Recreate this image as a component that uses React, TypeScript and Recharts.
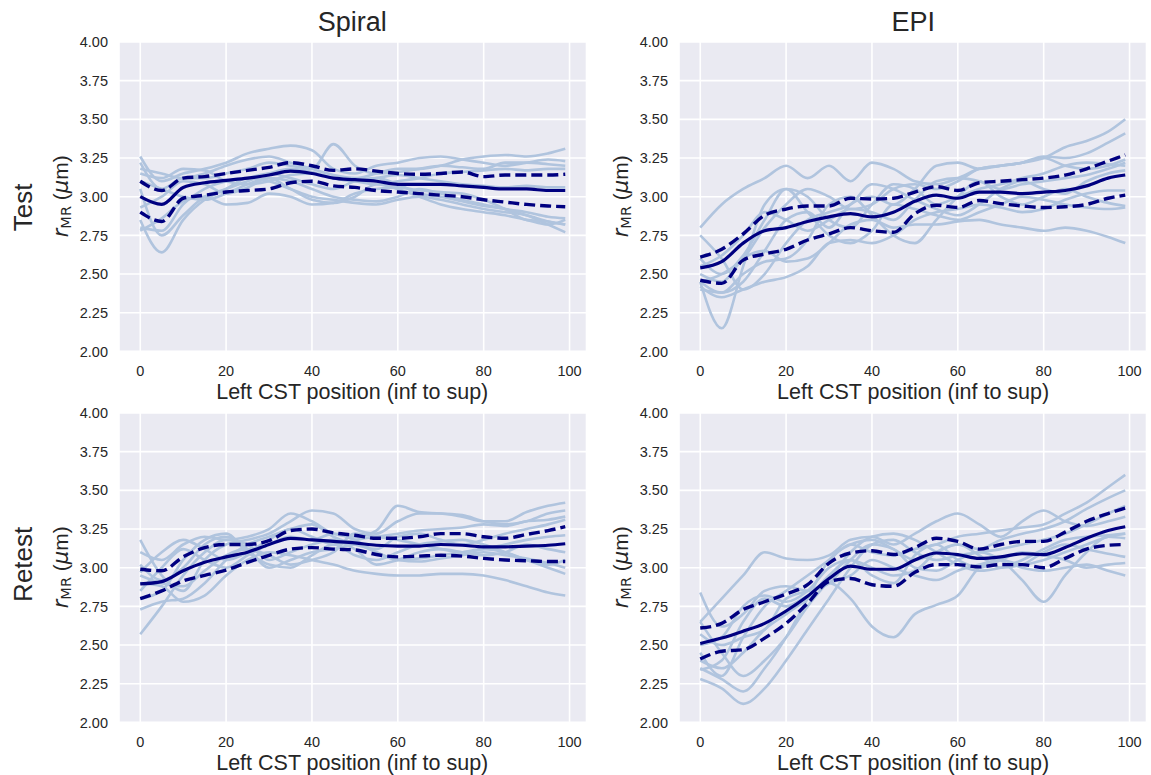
import { LineChart, Line, XAxis, YAxis, CartesianGrid } from 'recharts';

// positions along the tract where values were read
const POSITIONS = [0, 5, 10, 15, 20, 25, 30, 35, 40, 45, 50, 55, 60, 65, 70, 75, 80, 85, 90, 95, 99];
const X_TICKS = [0, 20, 40, 60, 80, 100];
const Y_TICKS = [2, 2.25, 2.5, 2.75, 3, 3.25, 3.5, 3.75, 4];

const COLUMN_TITLES = ['Spiral', 'EPI'];
const ROW_TITLES = ['Test', 'Retest'];
const X_LABEL = 'Left CST position (inf to sup)';

// Spiral / Test
const spiralTestMean = [3.0, 2.95, 3.06, 3.09, 3.105, 3.12, 3.14, 3.165, 3.15, 3.12, 3.11, 3.1, 3.08, 3.08, 3.08, 3.07, 3.06, 3.05, 3.05, 3.04, 3.04];
const spiralTestUpper = [3.1, 3.04, 3.12, 3.13, 3.15, 3.17, 3.19, 3.22, 3.2, 3.17, 3.18, 3.165, 3.15, 3.145, 3.15, 3.16, 3.13, 3.14, 3.14, 3.14, 3.145];
const spiralTestLower = [2.9, 2.84, 2.99, 3.01, 3.03, 3.04, 3.05, 3.09, 3.1, 3.07, 3.06, 3.04, 3.03, 3.02, 3.01, 3.0, 2.98, 2.965, 2.95, 2.94, 2.935];
const spiralTestSubjects = [
  [3.18, 3.15, 3.12, 3.15, 3.2, 3.24, 3.26, 3.22, 3.18, 3.14, 3.12, 3.15, 3.18, 3.18, 3.2, 3.24, 3.26, 3.27, 3.26, 3.28, 3.31],
  [3.26, 3.1, 3.15, 3.18, 3.22, 3.28, 3.31, 3.33, 3.3, 3.18, 3.15, 3.2, 3.22, 3.25, 3.26, 3.24, 3.22, 3.2, 3.22, 3.24, 3.23],
  [3.22, 3.05, 3.12, 3.12, 3.15, 3.18, 3.22, 3.2, 3.18, 3.34, 3.2, 3.15, 3.16, 3.18, 3.2, 3.19, 3.18, 3.22, 3.22, 3.21, 3.2],
  [3.15, 3.12, 3.18, 3.17, 3.1, 3.08, 3.1, 3.14, 3.15, 3.12, 3.1, 3.12, 3.14, 3.12, 3.1, 3.08, 3.07, 3.06, 3.07, 3.06, 3.06],
  [3.1, 3.05, 3.0, 2.98, 3.02, 3.08, 3.12, 3.1, 3.05, 3.0, 2.98, 2.97, 3.0, 3.05, 3.02, 2.98, 2.95, 2.92, 2.9, 2.87, 2.86],
  [2.93, 3.0, 3.1, 3.08, 3.02, 3.06, 3.12, 3.05, 2.98, 2.96, 3.0, 3.08, 3.05, 3.0, 2.95, 2.92, 2.9, 2.88, 2.85, 2.82, 2.85],
  [2.85, 2.64, 2.85, 2.98, 3.05, 3.12, 3.1, 3.05, 3.0, 2.98, 2.96, 2.95, 2.98, 3.0, 2.98, 2.95, 2.92, 2.9, 2.88, 2.84, 2.82],
  [2.8, 2.78, 2.95, 3.05, 3.1, 3.12, 3.15, 3.12, 3.08, 3.05, 3.1, 3.12, 3.08, 3.02, 3.0, 2.97, 2.94, 2.92, 2.88, 2.82, 2.77],
  [2.78, 2.86, 2.97, 3.0, 2.95, 2.96, 3.02, 3.0, 2.95, 2.96, 3.02, 3.05, 3.06, 3.04, 3.03, 3.02, 2.98, 2.92, 2.85, 2.84, 2.82],
  [3.05, 2.75, 2.88, 3.0, 3.05, 3.1, 3.15, 3.18, 3.16, 3.12, 3.1, 3.08, 3.1, 3.12, 3.15, 3.16, 3.17, 3.18, 3.17, 3.18, 3.18],
];

// EPI / Test
const epiTestMean = [2.54, 2.58, 2.7, 2.78, 2.8, 2.84, 2.87, 2.89, 2.87, 2.9, 2.97, 3.01, 2.99, 3.03, 3.03, 3.02, 3.03, 3.04, 3.07, 3.12, 3.14];
const epiTestUpper = [2.61, 2.66, 2.76, 2.88, 2.92, 2.94, 2.94, 2.99, 2.985, 2.99, 3.03, 3.065, 3.04, 3.09, 3.1, 3.11, 3.12, 3.14, 3.18, 3.23, 3.27];
const epiTestLower = [2.46, 2.44, 2.59, 2.63, 2.66, 2.72, 2.76, 2.8, 2.78, 2.77, 2.89, 2.945, 2.93, 2.975, 2.955, 2.94, 2.93, 2.935, 2.95, 2.99, 3.01];
const epiTestSubjects = [
  [2.45, 2.5, 2.6, 2.8, 2.95, 3.05, 3.0, 2.92, 2.95, 3.05, 3.08, 3.05, 3.1, 3.18, 3.2, 3.22, 3.25, 3.32, 3.36, 3.42, 3.5],
  [2.4, 2.38, 2.45, 2.65, 2.85, 2.9, 2.8, 2.95, 3.0, 2.95, 3.05, 3.2, 3.22, 3.18, 3.2, 3.22, 3.26, 3.25, 3.28, 3.35, 3.41],
  [2.8, 2.95, 3.05, 3.12, 3.2, 3.12, 3.2, 3.1, 3.22, 3.18, 3.1, 3.08, 3.12, 3.18, 3.2, 3.22, 3.25, 3.2, 3.18, 3.2, 3.24],
  [2.45, 2.15, 2.55, 2.95, 3.05, 3.0, 2.85, 2.8, 2.95, 3.08, 3.05, 2.95, 3.0, 3.05, 3.08, 3.12, 3.15, 3.2, 3.22, 3.21, 3.2],
  [2.75, 2.6, 2.4, 2.5, 2.7, 2.85, 2.9, 2.95, 3.08, 3.05, 2.98, 2.92, 2.88, 2.95, 3.05, 3.1, 3.05, 3.02, 3.1, 3.15, 3.17],
  [2.42, 2.35, 2.4, 2.45, 2.48, 2.55, 2.7, 2.72, 2.7, 2.75, 2.85, 2.9, 2.92, 2.95, 2.93, 2.9, 2.92, 2.98, 3.02, 3.04, 3.04],
  [2.5, 2.45, 2.6, 2.65, 2.58, 2.6, 2.7, 2.82, 2.85, 2.8, 2.82, 2.82, 2.84, 2.85, 2.82, 2.8, 2.78, 2.8, 2.78, 2.74, 2.7],
  [2.6, 2.5, 2.62, 2.85, 3.05, 2.9, 2.75, 2.7, 2.78, 2.95, 2.92, 2.88, 2.85, 2.9, 2.95, 3.0, 2.98, 2.95, 2.93, 2.92, 2.93],
  [2.45, 2.38, 2.5, 2.58, 2.6, 2.72, 2.95, 3.0, 2.88, 2.75, 2.7, 2.85, 3.0, 3.1, 3.0, 2.95, 3.0, 3.05, 3.0, 2.96, 2.94],
  [2.55, 2.62, 2.75, 2.9, 2.85, 2.78, 2.85, 2.92, 2.9, 2.85, 2.98, 3.1, 3.12, 3.1, 3.05, 3.08, 3.1, 3.12, 3.14, 3.18, 3.22],
];

// Spiral / Retest
const spiralRetestMean = [2.895, 2.91, 2.98, 3.035, 3.07, 3.1, 3.15, 3.19, 3.18, 3.17, 3.16, 3.145, 3.14, 3.14, 3.15, 3.145, 3.135, 3.135, 3.14, 3.145, 3.155];
const spiralRetestUpper = [2.99, 2.98, 3.07, 3.13, 3.15, 3.15, 3.175, 3.24, 3.25, 3.225, 3.21, 3.19, 3.19, 3.2, 3.22, 3.22, 3.2, 3.19, 3.215, 3.24, 3.265];
const spiralRetestLower = [2.8, 2.85, 2.915, 2.95, 2.985, 3.035, 3.08, 3.12, 3.13, 3.12, 3.115, 3.085, 3.07, 3.075, 3.08, 3.075, 3.06, 3.05, 3.045, 3.04, 3.04];
const spiralRetestSubjects = [
  [3.18, 2.95, 2.85, 3.05, 3.15, 3.18, 3.22, 3.3, 3.37, 3.35, 3.25, 3.22, 3.3, 3.35, 3.35, 3.34, 3.3, 3.28, 3.3, 3.35, 3.37],
  [3.1, 3.05, 3.15, 3.2, 3.18, 3.2, 3.25, 3.35, 3.3, 3.22, 3.2, 3.24, 3.4, 3.36, 3.35, 3.33, 3.3, 3.3, 3.36, 3.4, 3.42],
  [2.97, 3.1, 3.18, 3.12, 3.05, 3.1, 3.18, 3.25, 3.2, 3.15, 3.18, 3.2, 3.22, 3.24, 3.25, 3.26, 3.28, 3.27, 3.3, 3.31, 3.33],
  [2.73, 2.78, 2.8, 2.9, 3.05, 3.15, 3.2, 3.25, 3.28, 3.2, 3.15, 3.12, 3.2, 3.22, 3.18, 3.15, 3.18, 3.22, 3.25, 3.28, 3.31],
  [2.57, 2.75, 2.95, 3.1, 3.18, 3.15, 3.05, 3.1, 3.15, 3.18, 3.12, 3.02, 3.05, 3.1, 3.12, 3.1, 3.08, 3.1, 3.15, 3.12, 3.1],
  [2.9, 2.88, 2.78, 2.82, 2.95, 3.05, 3.1, 3.08, 3.05, 3.02, 2.98, 2.96, 2.95, 2.95, 2.96, 2.96, 2.95, 2.92, 2.88, 2.84, 2.82],
  [3.02, 2.92, 3.0, 3.15, 3.2, 3.12, 3.0, 3.05, 3.1, 3.12, 3.15, 3.1, 3.05, 3.06, 3.08, 3.1, 3.12, 3.1, 3.05, 3.0, 2.96],
  [2.85, 3.0, 3.12, 3.05, 3.0, 3.08, 3.15, 3.2, 3.18, 3.22, 3.18, 3.1, 3.05, 3.04, 3.06, 3.08, 3.1, 3.08, 3.06, 3.03, 3.0],
  [2.95, 2.9, 2.88, 2.98, 3.08, 3.12, 3.08, 3.02, 3.05, 3.1, 3.22, 3.2, 3.18, 3.15, 3.12, 3.1, 3.12, 3.15, 3.18, 3.2, 3.21],
  [2.8, 2.85, 3.05, 3.18, 3.22, 3.1, 3.02, 3.0, 3.08, 3.15, 3.08, 3.05, 3.1, 3.15, 3.17, 3.18, 3.15, 3.1, 3.05, 3.02, 3.05],
];

// EPI / Retest
const epiRetestMean = [2.51, 2.545, 2.59, 2.64, 2.72, 2.815, 2.93, 3.01, 2.99, 2.99, 3.05, 3.095, 3.085, 3.06, 3.07, 3.09, 3.085, 3.13, 3.19, 3.24, 3.265];
const epiRetestUpper = [2.61, 2.64, 2.73, 2.78, 2.83, 2.89, 3.03, 3.095, 3.11, 3.085, 3.13, 3.19, 3.17, 3.12, 3.15, 3.17, 3.17, 3.23, 3.3, 3.35, 3.385];
const epiRetestLower = [2.41, 2.46, 2.47, 2.545, 2.64, 2.77, 2.91, 2.93, 2.89, 2.88, 2.97, 3.02, 3.02, 3.005, 3.02, 3.02, 3.0, 3.06, 3.12, 3.145, 3.15];
const epiRetestSubjects = [
  [2.45, 2.3, 2.55, 2.75, 2.85, 2.95, 3.05, 3.15, 3.1, 3.08, 3.12, 3.15, 3.2, 3.22, 3.24, 3.26, 3.28, 3.35, 3.42, 3.52, 3.6],
  [2.35, 2.28, 2.2, 2.35, 2.55, 2.8, 3.05, 3.15, 3.18, 3.12, 3.05, 3.1, 3.15, 3.12, 3.18, 3.22, 3.25, 3.3, 3.38, 3.45, 3.5],
  [2.65, 2.8, 2.95, 3.1, 3.06, 3.05, 3.08, 3.18, 3.2, 3.15, 3.22, 3.3, 3.35, 3.28, 3.2, 3.3, 3.37, 3.3, 3.27, 3.3, 3.33],
  [2.34, 2.4, 2.65, 2.8, 2.75, 2.82, 2.9, 2.8, 2.62, 2.55, 2.7, 2.76, 2.82, 3.0, 3.05, 3.02, 3.05, 3.1, 3.15, 3.2, 3.22],
  [2.28, 2.22, 2.12, 2.22, 2.4, 2.6, 2.8, 3.0, 3.15, 3.18, 3.1, 3.05, 3.08, 3.1, 3.12, 3.15, 3.18, 3.22, 3.28, 3.35, 3.4],
  [2.84, 2.62, 2.7, 2.85, 2.88, 2.85, 2.9, 3.05, 3.15, 3.12, 3.0, 2.98, 3.05, 3.1, 3.05, 2.92, 2.78, 2.95, 3.1, 3.2, 3.19],
  [2.57, 2.5, 2.55, 2.6, 2.8, 2.85, 2.9, 2.95, 3.05, 3.0, 2.95, 2.92, 2.98, 3.02, 3.05, 3.0, 2.98, 3.0, 3.02, 2.98, 2.95],
  [2.5, 2.55, 2.75, 2.82, 2.78, 2.85, 3.0, 3.05, 2.95, 2.9, 3.08, 3.15, 3.05, 3.0, 3.05, 3.1, 3.08, 3.05, 3.0, 3.02, 3.03],
  [2.4, 2.35, 2.45, 2.6, 2.7, 2.8, 2.95, 3.05, 3.0, 2.95, 2.98, 3.1, 3.15, 3.08, 3.0, 3.02, 3.1, 3.15, 3.12, 3.09, 3.07],
  [2.65, 2.45, 2.3, 2.4, 2.55, 2.75, 2.92, 3.1, 3.2, 3.22, 3.18, 3.1, 3.02, 2.98, 3.0, 3.05, 3.12, 3.18, 3.2, 3.21, 3.22],
];

const FONT = '"Liberation Sans", Arial, sans-serif';
const TEXT = '#262626';
const SUBJECT = '#B0C4DE';
const NAVY = '#000080';

// plot-area geometry (px, page coords)
const PLOT_W = 467.5;
const PLOT_H = 309.4;
const COL_LEFT = [118.5, 679.4];
const ROW_TOP = [41.6, 412.6];
const Y_AXIS_W = 60;
const TOP_PAD = 12;
const X_AXIS_H = 34;

type PanelProps = {
  left: number;
  top: number;
  subjects: number[][];
  mean: number[];
  upper: number[];
  lower: number[];
};

function Panel({ left, top, subjects, mean, upper, lower }: PanelProps) {
  const data = POSITIONS.map((x, i) => {
    const row: Record<string, number> = { x, mean: mean[i], upper: upper[i], lower: lower[i] };
    subjects.forEach((s, k) => {
      row['s' + k] = s[i];
    });
    return row;
  });

  return (
    <div style={{ position: 'absolute', left: left - Y_AXIS_W, top: top - TOP_PAD }}>
      <LineChart
        width={PLOT_W + Y_AXIS_W}
        height={PLOT_H + TOP_PAD + X_AXIS_H}
        data={data}
        margin={{ top: TOP_PAD, right: 0, bottom: 0, left: 0 }}
      >
        <CartesianGrid fill="#EAEAF2" stroke="#FFFFFF" strokeWidth={1.6} />
        <XAxis
          dataKey="x"
          type="number"
          domain={[-4.95, 103.95]}
          ticks={X_TICKS}
          allowDataOverflow
          axisLine={false}
          tickLine={false}
          tickSize={0}
          tickMargin={14}
          height={X_AXIS_H}
          tick={{ fontSize: 14.5, fill: TEXT, fontFamily: FONT }}
        />
        <YAxis
          type="number"
          domain={[2, 4]}
          ticks={Y_TICKS}
          allowDataOverflow
          axisLine={false}
          tickLine={false}
          tickSize={0}
          tickMargin={11}
          width={Y_AXIS_W}
          tickFormatter={(v: number) => v.toFixed(2)}
          tick={{ fontSize: 14.5, fill: TEXT, fontFamily: FONT }}
        />
        {subjects.map((_, k) => (
          <Line
            key={k}
            type="monotone"
            dataKey={'s' + k}
            stroke={SUBJECT}
            strokeWidth={2.6}
            dot={false}
            activeDot={false}
            isAnimationActive={false}
          />
        ))}
        <Line type="monotone" dataKey="mean" stroke={NAVY} strokeWidth={3.2} dot={false} activeDot={false} isAnimationActive={false} />
        <Line type="monotone" dataKey="upper" stroke={NAVY} strokeWidth={3.4} strokeDasharray="11 5" dot={false} activeDot={false} isAnimationActive={false} />
        <Line type="monotone" dataKey="lower" stroke={NAVY} strokeWidth={3.4} strokeDasharray="11 5" dot={false} activeDot={false} isAnimationActive={false} />
      </LineChart>
    </div>
  );
}

function YLabel({ x, y }: { x: number; y: number }) {
  return (
    <text transform={`translate(${x},${y}) rotate(-90)`} textAnchor="middle" fontSize={21} fill={TEXT} fontFamily={FONT}>
      <tspan fontStyle="italic" fontFamily="DejaVu Sans">r</tspan>
      <tspan fontSize={14.5} dy={3} fontFamily="DejaVu Sans">MR</tspan>
      <tspan dy={-3}> (</tspan>
      <tspan fontStyle="italic" fontFamily="DejaVu Sans">μ</tspan>
      <tspan>m)</tspan>
    </text>
  );
}

export default function App() {
  const panels = [
    { col: 0, row: 0, subjects: spiralTestSubjects, mean: spiralTestMean, upper: spiralTestUpper, lower: spiralTestLower },
    { col: 1, row: 0, subjects: epiTestSubjects, mean: epiTestMean, upper: epiTestUpper, lower: epiTestLower },
    { col: 0, row: 1, subjects: spiralRetestSubjects, mean: spiralRetestMean, upper: spiralRetestUpper, lower: spiralRetestLower },
    { col: 1, row: 1, subjects: epiRetestSubjects, mean: epiRetestMean, upper: epiRetestUpper, lower: epiRetestLower },
  ];

  return (
    <div style={{ position: 'absolute', left: 0, top: 0, width: 1151, height: 775, background: '#FFFFFF', fontFamily: FONT }}>
      {panels.map((p) => (
        <Panel
          key={`${p.col}-${p.row}`}
          left={COL_LEFT[p.col]}
          top={ROW_TOP[p.row]}
          subjects={p.subjects}
          mean={p.mean}
          upper={p.upper}
          lower={p.lower}
        />
      ))}
      <svg width={1151} height={775} style={{ position: 'absolute', left: 0, top: 0, pointerEvents: 'none' }}>
        {COLUMN_TITLES.map((t, c) => (
          <text key={t} x={COL_LEFT[c] + PLOT_W / 2} y={31} textAnchor="middle" fontSize={27} fill={TEXT} fontFamily={FONT}>
            {t}
          </text>
        ))}
        {ROW_TITLES.map((t, r) => (
          <text
            key={t}
            transform={`translate(32,${ROW_TOP[r] + PLOT_H / 2 + (r === 0 ? 11 : -3)}) rotate(-90)`}
            textAnchor="middle"
            fontSize={26}
            fill={TEXT}
            fontFamily={FONT}
          >
            {t}
          </text>
        ))}
        {[0, 1].map((r) =>
          [0, 1].map((c) => (
            <g key={`${r}-${c}`}>
              <YLabel x={COL_LEFT[c] - 51} y={ROW_TOP[r] + PLOT_H / 2} />
              <text x={COL_LEFT[c] + PLOT_W / 2} y={ROW_TOP[r] + 357.5} textAnchor="middle" fontSize={21.5} fill={TEXT} fontFamily={FONT}>
                {X_LABEL}
              </text>
            </g>
          ))
        )}
      </svg>
    </div>
  );
}
